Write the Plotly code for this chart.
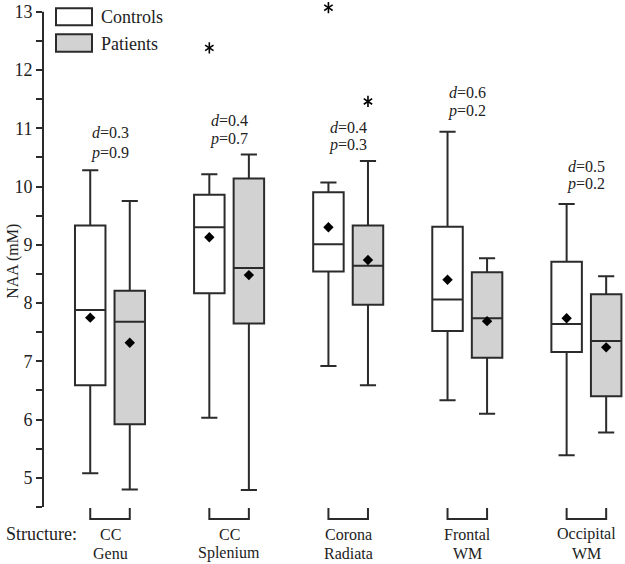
import plotly.graph_objects as go

# ---------------- data ----------------
structures = ["CC\nGenu", "CC\nSplenium", "Corona\nRadiata", "Frontal\nWM", "Occipital\nWM"]

ctrl_low = [5.08, 6.03, 6.92, 6.33, 5.39]
ctrl_q1 = [6.59, 8.17, 8.54, 7.52, 7.16]
ctrl_med = [7.88, 9.30, 9.01, 8.06, 7.64]
ctrl_q3 = [9.33, 9.86, 9.90, 9.31, 8.71]
ctrl_high = [10.28, 10.21, 10.07, 10.94, 9.70]
ctrl_mean = [7.75, 9.13, 9.30, 8.40, 7.74]

pat_low = [4.80, 4.79, 6.59, 6.10, 5.78]
pat_q1 = [5.92, 7.65, 7.97, 7.06, 6.40]
pat_med = [7.68, 8.60, 8.64, 7.74, 7.35]
pat_q3 = [8.21, 10.14, 9.33, 8.53, 8.15]
pat_high = [9.75, 10.55, 10.44, 8.77, 8.46]
pat_mean = [7.32, 8.48, 8.74, 7.69, 7.24]

# outliers: (structure index, group, value)
outlier_struct = [1, 2, 2]
outlier_group = ["ctrl", "ctrl", "pat"]
outlier_value = [12.38, 13.07, 11.46]

d_values = ["0.3", "0.4", "0.4", "0.6", "0.5"]
p_values = ["0.9", "0.7", "0.3", "0.2", "0.2"]

yticks = [5, 6, 7, 8, 9, 10, 11, 12, 13]

# ---------------- layout constants ----------------
W, H = 625, 564
YMIN, YAX_TOP, YMAX = 4.5, 13.0, 13.15
UNIT_PX = (507 - 12) / (YAX_TOP - YMIN)
PLOT_LEFT, PLOT_BOTTOM, PLOT_RIGHT = 43, 507, 623   # window px
PLOT_TOP = 12 - (YMAX - YAX_TOP) * UNIT_PX
L = PLOT_LEFT
T = PLOT_TOP
B = H - PLOT_BOTTOM
R = W - PLOT_RIGHT
PW = W - L - R
PH = H - T - B
PX_PER_UNIT = 119.1
X0 = -(110 - PLOT_LEFT) / PX_PER_UNIT
X1 = X0 + PW / PX_PER_UNIT
OFF = 0.166
BOXW = 0.256
# label heights (data units) for the d and p lines
d_y = [10.92, 11.13, 11.02, 11.61, 10.35]
p_y = [10.58, 10.82, 10.71, 11.30, 10.04]

LINE = "#2b2b2b"
TXT = "#222222"
GRAY = "#d2d2d2"
FONT = "Liberation Serif, Times New Roman, serif"


def px_x(px):
    return (px - PLOT_LEFT) / PW


def px_y(py):
    return (PLOT_BOTTOM - py) / PH


n = len(structures)
centers = list(range(n))
xc = [c - OFF for c in centers]
xp = [c + OFF for c in centers]

fig = go.Figure()

fig.add_trace(go.Box(
    x=xc, q1=ctrl_q1, median=ctrl_med, q3=ctrl_q3,
    lowerfence=ctrl_low, upperfence=ctrl_high,
    width=BOXW, whiskerwidth=0.53,
    fillcolor="white", line=dict(color=LINE, width=2),
    boxpoints=False, name="Controls", showlegend=False,
))
fig.add_trace(go.Box(
    x=xp, q1=pat_q1, median=pat_med, q3=pat_q3,
    lowerfence=pat_low, upperfence=pat_high,
    width=BOXW, whiskerwidth=0.53,
    fillcolor=GRAY, line=dict(color=LINE, width=2),
    boxpoints=False, name="Patients", showlegend=False,
))

# means
fig.add_trace(go.Scatter(
    x=xc + xp, y=ctrl_mean + pat_mean, mode="markers",
    marker=dict(symbol="diamond", size=8, color="black"),
    showlegend=False, hoverinfo="skip",
))

# outliers (six-armed asterisk = y-up + y-down)
ox = [(i - OFF) if g == "ctrl" else (i + OFF) for i, g in zip(outlier_struct, outlier_group)]
for sym in ["y-up-open", "y-down-open"]:
    fig.add_trace(go.Scatter(
        x=ox, y=outlier_value, mode="markers",
        marker=dict(symbol=sym, size=7, color="black",
                    line=dict(color="black", width=1.6)),
        showlegend=False, hoverinfo="skip", cliponaxis=False,
    ))

shapes = []
annotations = []

# y axis line (only up to 13)
shapes.append(dict(
    type="line", xref="paper", yref="y", x0=0, x1=0, y0=YMIN, y1=YAX_TOP,
    line=dict(color=LINE, width=2),
))

# brackets + structure labels
for i in range(n):
    y0 = px_y(508)
    y1 = px_y(519)
    shapes.append(dict(
        type="path", xref="x", yref="paper",
        path=f"M {xc[i]},{y0} L {xc[i]},{y1} L {xp[i]},{y1} L {xp[i]},{y0}",
        line=dict(color=LINE, width=2),
    ))
    for k, line in enumerate(structures[i].split("\n")):
        annotations.append(dict(
            x=centers[i], y=px_y(534 + 19 * k), xref="x", yref="paper",
            text=line, showarrow=False, xanchor="center", yanchor="middle",
            font=dict(family=FONT, size=16, color=TXT),
        ))
    annotations.append(dict(
        x=centers[i], y=d_y[i], xref="x", yref="y",
        text=f"<i>d</i>={d_values[i]}", showarrow=False,
        xanchor="center", yanchor="middle",
        font=dict(family=FONT, size=16, color=TXT),
    ))
    annotations.append(dict(
        x=centers[i], y=p_y[i], xref="x", yref="y",
        text=f"<i>p</i>={p_values[i]}", showarrow=False,
        xanchor="center", yanchor="middle",
        font=dict(family=FONT, size=16, color=TXT),
    ))

annotations.append(dict(
    x=px_x(4), y=px_y(534), xref="paper", yref="paper",
    text="Structure:", showarrow=False, xanchor="left", yanchor="middle",
    font=dict(family=FONT, size=18, color=TXT),
))

# y axis title
annotations.append(dict(
    x=px_x(13), y=px_y(262), xref="paper", yref="paper",
    text="NAA (mM)", showarrow=False, textangle=-90,
    xanchor="center", yanchor="middle",
    font=dict(family=FONT, size=16, color=TXT),
))

# legend (drawn manually)
legend_items = [("Controls", "white", 8.5, 25.5, 17), ("Patients", GRAY, 34.5, 52, 44)]
for label, fill, ytop, ybot, ytxt in legend_items:
    shapes.append(dict(
        type="rect", xref="paper", yref="paper",
        x0=px_x(56), x1=px_x(92), y0=px_y(ybot), y1=px_y(ytop),
        fillcolor=fill, line=dict(color=LINE, width=2),
    ))
    annotations.append(dict(
        x=px_x(99), y=px_y(ytxt), xref="paper", yref="paper",
        text=label, showarrow=False, xanchor="left", yanchor="middle",
        font=dict(family=FONT, size=18, color=TXT),
    ))

fig.update_layout(
    width=W, height=H,
    margin=dict(l=L, r=R, t=T, b=B, pad=0),
    paper_bgcolor="white", plot_bgcolor="white",
    boxmode="overlay",
    shapes=shapes, annotations=annotations,
    font=dict(family=FONT, size=18, color=TXT),
    xaxis=dict(range=[X0, X1], showgrid=False, zeroline=False,
               showticklabels=False, showline=False, ticks=""),
    yaxis=dict(range=[YMIN, YMAX], showgrid=False, zeroline=False,
               showline=False,
               tickvals=yticks, ticks="outside", ticklen=6, tickwidth=2,
               tickcolor=LINE, tickfont=dict(family=FONT, size=18, color=TXT),
               ticklabeloverflow="allow",
               minor=dict(tickvals=[v - 0.5 for v in yticks], ticks="outside",
                          ticklen=6, tickwidth=2, tickcolor=LINE)),
)

fig.write_html("out.html", config={"displayModeBar": False},
               post_script="document.body.style.margin='0';")
